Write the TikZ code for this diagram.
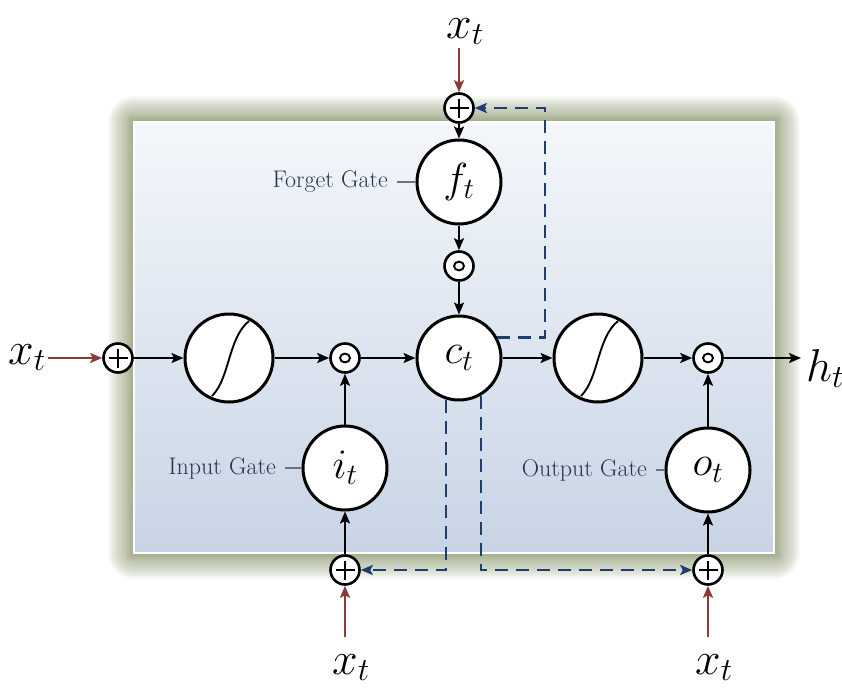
\RequirePackage{fix-cm}
\documentclass[tikz,border=0pt]{standalone}
\usetikzlibrary{arrows.meta,calc}

\definecolor{glow}{RGB}{132,146,102}
\definecolor{dashblue}{RGB}{30,62,112}
\definecolor{inbrown}{RGB}{140,58,56}
\definecolor{labelnavy}{RGB}{40,52,82}
\definecolor{boxtop}{RGB}{244,247,251}
\definecolor{boxbot}{RGB}{200,212,229}

\tikzset{
  unit/.style={circle,draw=black,line width=3pt,fill=white,minimum size=84pt,
    inner sep=0pt,font=\fontsize{42}{42}\selectfont},
  sigbox/.style={unit,minimum size=88pt,
    path picture={\draw[line width=1.9pt]
      ($(path picture bounding box.center)+(-17pt,-38pt)$)
      .. controls ($(path picture bounding box.center)+(1pt,-20pt)$)
      and ($(path picture bounding box.center)+(-1pt,20pt)$)
      .. ($(path picture bounding box.center)+(20pt,37pt)$);}},
  plusop/.style={circle,draw=black,line width=2.6pt,fill=white,minimum size=29pt,
    inner sep=0pt,
    path picture={\draw[line width=2.8pt]
      ($(path picture bounding box.center)+(-9.5pt,0pt)$) -- ($(path picture bounding box.center)+(9.5pt,0pt)$)
      ($(path picture bounding box.center)+(0pt,-9.5pt)$) -- ($(path picture bounding box.center)+(0pt,9.5pt)$);}},
  prodop/.style={circle,draw=black,line width=2.6pt,fill=white,minimum size=29pt,
    inner sep=0pt,
    path picture={\draw[line width=1.9pt] (path picture bounding box.center) ellipse (5pt and 4.4pt);}},
  flow/.style={line width=2.1pt,-{Stealth[length=12pt,width=10pt,inset=2.5pt]}},
  inflow/.style={flow,draw=inbrown},
  peep/.style={line width=2.3pt,draw=dashblue,dash pattern=on 13pt off 8pt,
    -{Stealth[length=12pt,width=10pt,inset=2.5pt,color=dashblue]}},
  gatelab/.style={text=labelnavy,font=\fontsize{24}{24}\selectfont,inner sep=9pt},
  gateline/.style={draw=labelnavy!70,line width=1.2pt},
  varlab/.style={font=\fontsize{46}{46}\selectfont,inner sep=0pt},
}

\begin{document}
\begin{tikzpicture}[x=1pt,y=-1pt]
\useasboundingbox (0,0) rectangle (842,688);

% soft olive glow around the cell frame, fading outwards
\foreach \i in {26,...,1}{
  \fill[glow,opacity=0.04,rounded corners=\i pt] (134-\i,122-\i) rectangle (774+\i,553+\i);
}
\foreach \i in {8,...,1}{
  \fill[glow,opacity=0.04] (134-\i,122-\i) rectangle (774+\i,553+\i);
}
% cell body
\fill[top color=boxtop,bottom color=boxbot] (134,122) rectangle (774,553);
\draw[white,line width=1.3pt] (134,122) rectangle (774,553);

% operators and units
\node[plusop] (ptop) at (459,108) {};
\node[unit]   (ft)   at (459,182) {$f_t$};
\node[prodop] (of)   at (459,266) {};
\node[unit]   (ct)   at (459,358) {$c_t$};
\node[plusop] (pin)  at (118,358) {};
\node[sigbox] (s1)   at (229,358) {};
\node[prodop] (oi)   at (345,358) {};
\node[sigbox] (s2)   at (598,358) {};
\node[prodop] (oo)   at (708,358) {};
\node[unit]   (it)   at (345,468) {$i_t$};
\node[unit]   (ot)   at (708,470) {$o_t$};
\node[plusop] (pbl)  at (345,570) {};
\node[plusop] (pbr)  at (708,570) {};

% input / output labels
\node[varlab,anchor=base west] (xl)  at (8,364)   {$x_t$};
\node[varlab,anchor=base west] (xtp) at (446,38)  {$x_t$};
\node[varlab,anchor=base west] (xbl) at (332,674) {$x_t$};
\node[varlab,anchor=base west] (xbr) at (695,674) {$x_t$};
\node[varlab,anchor=base west] (ht)  at (806,381) {$h_t$};

\coordinate (xlend)  at (48,358);
\coordinate (xtpend) at (459,48);
\coordinate (xblend) at (345,637);
\coordinate (xbrend) at (708,637);
\coordinate (htend)  at (801,358);
\coordinate (loopR)  at (545,108);

% gate names
\node[gatelab,anchor=east] (lf) at (397,182) {Forget Gate};
\node[gatelab,anchor=east] (li) at (285,468) {Input Gate};
\node[gatelab,anchor=east] (lo) at (656,470) {Output Gate};
\draw[gateline] (lf.east) -- (ft.west);
\draw[gateline] (li.east) -- (it.west);
\draw[gateline] (lo.east) -- (ot.west);

% external inputs
\draw[inflow] (xlend)  -- (pin.west);
\draw[inflow] (xtpend) -- (ptop.north);
\draw[inflow] (xblend) -- (pbl.south);
\draw[inflow] (xbrend) -- (pbr.south);

% main data path
\draw[flow] (pin)  -- (s1);
\draw[flow] (s1)   -- (oi);
\draw[flow] (oi)   -- (ct);
\draw[flow] (ct)   -- (s2);
\draw[flow] (s2)   -- (oo);
\draw[flow] (oo.east) -- (htend);

% gate paths
\draw[flow] (ptop) -- (ft);
\draw[flow] (ft)   -- (of);
\draw[flow] (of)   -- (ct);
\draw[flow] (pbl)  -- (it);
\draw[flow] (it)   -- (oi);
\draw[flow] (pbr)  -- (ot);
\draw[flow] (ot)   -- (oo);

% peephole connections from the cell state
\draw[peep] (ct.28) -| (loopR) -- (ptop.east);
\draw[peep] (ct.-107) |- (pbl.east);
\draw[peep] (ct.-60) |- (pbr.west);
\end{tikzpicture}
\end{document}
